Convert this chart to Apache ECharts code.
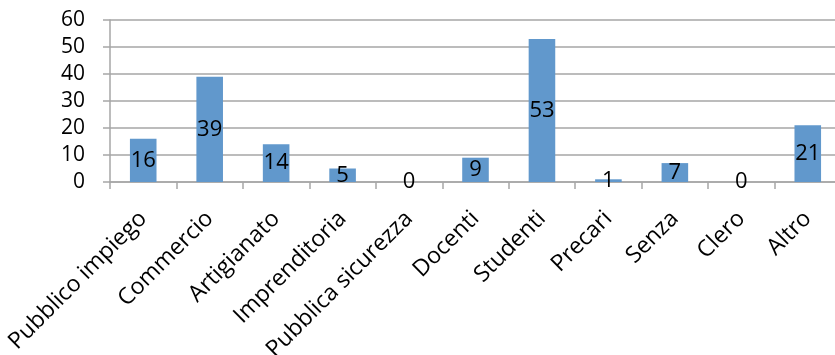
<!DOCTYPE html>
<html>
<head>
<meta charset="utf-8">
<script src="https://cdn.jsdelivr.net/npm/echarts@6/dist/echarts.min.js"></script>
<style>
  html, body { margin: 0; padding: 0; background: #fff; }
  #chart { width: 835px; height: 355px; }
</style>
</head>
<body>
<div id="chart"></div>
<script>
var categories = ['Pubblico impiego', 'Commercio', 'Artigianato', 'Imprenditoria', 'Pubblica sicurezza',
  'Docenti', 'Studenti', 'Precari', 'Senza', 'Clero', 'Altro'];
var values = [16, 39, 14, 5, 0, 9, 53, 1, 7, 0, 21];

var barColor = '#6198cc';
var gridColor = '#a6a6a6';
var font = 'Open Sans, Lato, sans-serif';

var chart = echarts.init(document.getElementById('chart'), null, { renderer: 'canvas' });
chart.setOption({
  animation: false,
  grid: { left: 110, top: 20, width: 731, height: 162, containLabel: false, outerBoundsMode: 'none' },
  xAxis: {
    type: 'category',
    data: categories,
    axisLine: { lineStyle: { color: gridColor, width: 1.5 } },
    axisTick: { show: true, length: 7, lineStyle: { color: gridColor, width: 1.5 } },
    axisLabel: { color: '#000', fontSize: 23, fontFamily: font, rotate: 45, margin: 33, interval: 0 }
  },
  yAxis: {
    type: 'value',
    min: 0,
    max: 60,
    interval: 10,
    axisLine: { show: true, lineStyle: { color: gridColor, width: 1.5 } },
    axisTick: { show: true, length: 7, lineStyle: { color: gridColor, width: 1.5 } },
    axisLabel: { color: '#000', fontSize: 21, fontFamily: font, margin: 25 },
    splitLine: { lineStyle: { color: gridColor, width: 1.5 } }
  },
  series: [{
    type: 'bar',
    data: values,
    barWidth: '40%',
    itemStyle: { color: barColor },
    label: {
      show: true,
      position: 'inside',
      color: '#000',
      fontSize: 22,
      fontFamily: font
    }
  }]
});
</script>
</body>
</html>
